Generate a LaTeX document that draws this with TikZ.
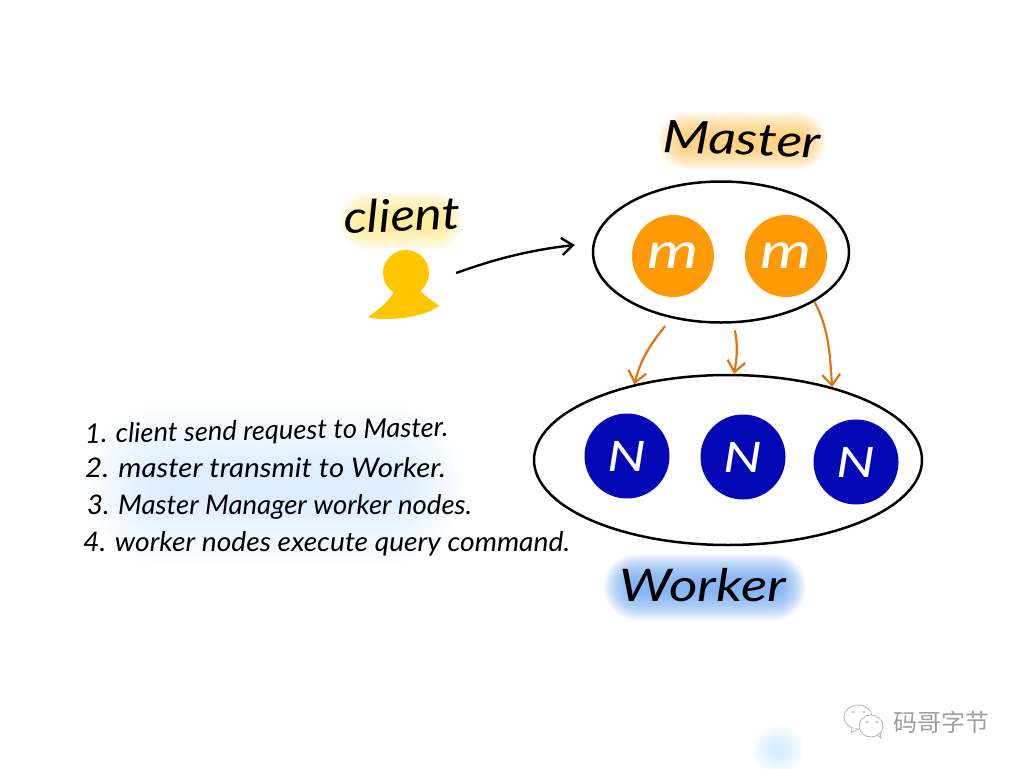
\documentclass[tikz,border=0pt]{standalone}
\usepackage{fontspec}
\setmainfont{Lato}
\newfontfamily\cjkfont{Noto Sans CJK SC}
\usetikzlibrary{shapes.geometric,arrows.meta,calc}
\definecolor{mastfill}{HTML}{FF9A05}
\definecolor{workfill}{HTML}{0509B5}
\definecolor{userfill}{HTML}{FFC600}
\definecolor{flowline}{HTML}{E0740F}
\definecolor{hlyellow}{HTML}{FFEC80}
\definecolor{hlorange}{HTML}{FFC85A}
\definecolor{hlblue}{HTML}{6AA6F5}
\definecolor{hlpale}{HTML}{C8EEFF}
\newcommand{\softblob}[6]{%
  \foreach \k in {0,...,17}{%
    \pgfmathsetmacro{\bw}{#3-\k*#4*0.048}
    \pgfmathsetmacro{\bh}{#4-\k*#4*0.048}
    \fill[#5,opacity=#6,rounded corners=\bh pt] ({#1-\bw},{#2-\bh}) rectangle ({#1+\bw},{#2+\bh});
  }%
}
\tikzset{
  group/.style={draw=black,ellipse,line width=2.5pt,inner sep=0pt},
  mnode/.style={circle,fill=mastfill,minimum size=82pt,inner sep=0pt,text=white,font=\fontsize{50}{50}\selectfont\itshape},
  nnode/.style={circle,fill=workfill,minimum size=85pt,inner sep=0pt,text=white,font=\fontsize{42}{42}\selectfont\itshape},
  head/.style={circle,fill=userfill,minimum size=46pt,inner sep=0pt},
  title/.style={inner sep=0pt,text=black,font=\fontsize{45}{45}\selectfont\itshape},
  note/.style={inner sep=0pt,anchor=base west,text=black,font=\fontsize{27}{27}\selectfont\itshape},
  flow/.style={draw=flowline,line width=2.2pt,-{Straight Barb[length=11pt,width=18pt]}},
  send/.style={draw=black,line width=2.4pt,-{Straight Barb[length=11pt,width=17pt]}},
  wechat/.style={draw=gray!65,line width=0.7pt,fill=white}
}
\begin{document}
\begin{tikzpicture}[x=1pt,y=-1pt]
\useasboundingbox (0,0) rectangle (1024,768);
\fill[white] (0,0) rectangle (1024,768);
\softblob{742}{141}{84}{29}{hlorange}{0.07}
\softblob{401}{221}{62}{29}{hlyellow}{0.07}
\softblob{705}{587}{101}{33}{hlblue}{0.08}
\softblob{275}{485}{190}{80}{hlpale}{0.035}
\softblob{778}{750}{26}{24}{hlpale}{0.05}

\node[title,rotate=-2] (mastertitle) at (742,139) {\scalebox{1.2}[1]{Master}};
\node[title,rotate=2] (clienttitle) at (402,215) {\scalebox{1.14}[1]{client}};
\node[title] (workertitle) at (703,585) {\scalebox{1.22}[1]{Worker}};

\node[group,minimum width=256pt,minimum height=141pt] (master) at (721,252) {};
\node[group,minimum width=388pt,minimum height=170pt] (worker) at (728,460) {};

\node[mnode] (m1) at (673,256) {\scalebox{1.3}[1]{m}};
\node[mnode] (m2) at (786,256) {\scalebox{1.3}[1]{m}};
\node[nnode] (n1) at (627,456) {\scalebox{1.3}[1]{N}};
\node[nnode] (n2) at (743,457) {\scalebox{1.3}[1]{N}};
\node[nnode] (n3) at (856,462) {\scalebox{1.3}[1]{N}};

\node[head] (client) at (406,273) {};
\fill[userfill] (394,292) .. controls (388,303) and (376,311) .. (368,317)
  .. controls (378,321) and (420,320) .. (439,306)
  .. controls (432,300) and (425,297) .. (421,291) -- cycle;

\draw[send] ([shift={(27,0)}]client.east) .. controls (495,259) and (530,250) .. ([shift={(-17,-7)}]master.west);
\draw[flow] ([shift={(-6,8)}]master.233) .. controls (652,342) and (640,360) .. (worker.141);
\draw[flow] ([shift={(0,7)}]master.281) .. controls (738,345) and (737,358) .. (worker.86);
\draw[flow] (master.332) .. controls (830,330) and (830,360) .. (worker.35);

\node[note,rotate=1] (line1) at (85,443) {\scalebox{1.01}[1]{1. client send request to Master.}};
\node[note] (line2) at (85,477) {\scalebox{1.09}[1]{2. master transmit to Worker.}};
\node[note] (line3) at (87,514) {\scalebox{1.02}[1]{3. Master Manager worker nodes.}};
\node[note] (line4) at (83,551) {\scalebox{1.045}[1]{4. worker nodes execute query command.}};

\draw[wechat] (858,717) ellipse[x radius=14pt,y radius=12pt];
\draw[wechat] (852,728) -- (851,733) -- (858,729);
\draw[wechat] (871,726) ellipse[x radius=12pt,y radius=11pt];
\draw[draw=gray!65,line width=0.7pt] (877,735) -- (881,738) -- (880,732);
\fill[gray!65] (853,712) circle (1.1pt) (864,712) circle (1.1pt) (867,722) circle (1.1pt) (877,722) circle (1.1pt);
\node[inner sep=0pt,text=gray!75,font=\cjkfont\fontsize{24}{24}\selectfont] (brand) at (941,722) {码哥字节};
\end{tikzpicture}
\end{document}
